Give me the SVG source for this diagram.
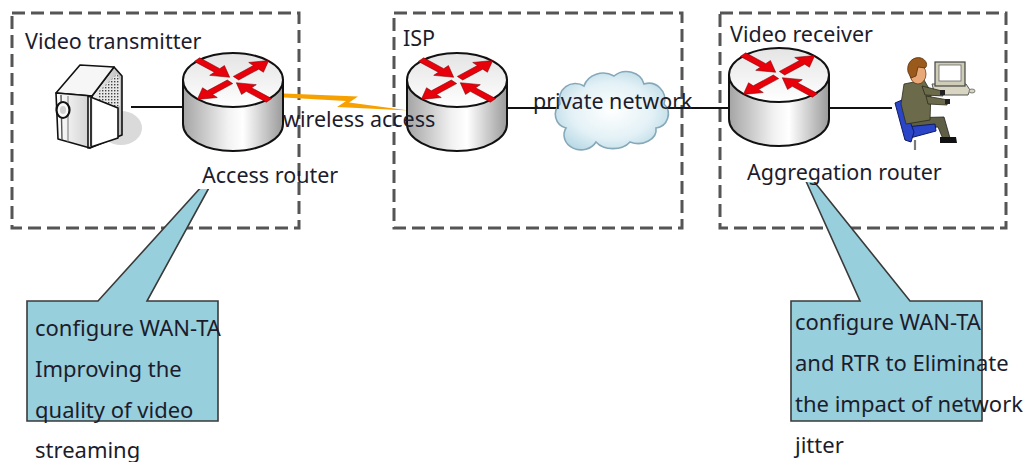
<svg xmlns="http://www.w3.org/2000/svg" xmlns:xlink="http://www.w3.org/1999/xlink" width="1024" height="462" viewBox="0 0 1024 462">
  <style>
    .zone { fill: none; stroke: #555; stroke-width: 3; stroke-dasharray: 13 6; }
    .lbl { font-family: "Noto Sans", "Open Sans", sans-serif; font-size: 21.5px; fill: #1c1c2c; }
    .note { font-size: 22px; }
    .wire { stroke: #111; stroke-width: 2.2; fill: none; }
    .callout { fill: #97cfdc; stroke: #3a3a3a; stroke-width: 1.6; stroke-linejoin: miter; }
    .knock { fill: #fff; }
    .outline { stroke: #111; stroke-width: 1.6; stroke-linejoin: round; }
  </style>
  <defs>
    <linearGradient id="rBody" x1="0" y1="0" x2="1" y2="0">
      <stop offset="0" stop-color="#a4a4a4"/>
      <stop offset="0.45" stop-color="#f2f2f2"/>
      <stop offset="0.6" stop-color="#ffffff"/>
      <stop offset="1" stop-color="#9a9a9a"/>
    </linearGradient>
    <linearGradient id="rTop" x1="0" y1="0" x2="0" y2="1">
      <stop offset="0" stop-color="#e4e4e4"/>
      <stop offset="1" stop-color="#ffffff"/>
    </linearGradient>
    <radialGradient id="cloudFill" cx="0.5" cy="0.5" r="0.6">
      <stop offset="0" stop-color="#ffffff"/>
      <stop offset="0.6" stop-color="#e3f1f6"/>
      <stop offset="1" stop-color="#b5d7e4"/>
    </radialGradient>
    <linearGradient id="camFace" x1="0" y1="0" x2="1" y2="0">
      <stop offset="0" stop-color="#ffffff"/>
      <stop offset="1" stop-color="#cfcfcf"/>
    </linearGradient>
    <linearGradient id="camSide" x1="0" y1="0" x2="1" y2="0">
      <stop offset="0" stop-color="#f4f4f4"/>
      <stop offset="1" stop-color="#bdbdbd"/>
    </linearGradient>
    <pattern id="grille" width="3" height="3" patternUnits="userSpaceOnUse">
      <rect width="3" height="3" fill="#e8e8e8"/>
      <rect width="1.4" height="1.4" fill="#444"/>
    </pattern>
    <!-- red arrow on the router top, pointing along +x -->
    <path id="rArrow" d="M0,-4 L27,-4 L27,-11 L44,0 L27,11 L27,4 L0,4 Z" fill="#e8000b" stroke="#7a0000" stroke-width="0.6"/>
    <g id="routerIcon">
      <path d="M-50,0 L-50,44 A50,27 0 0 0 50,44 L50,0 Z" fill="url(#rBody)" stroke="#111" stroke-width="2"/>
      <ellipse cx="0" cy="0" rx="50" ry="27" fill="url(#rTop)" stroke="#111" stroke-width="2"/>
      <g transform="scale(1,0.6)">
        <use xlink:href="#rArrow" transform="translate(-36,-34) rotate(42)"/>
        <use xlink:href="#rArrow" transform="translate(3,-3) rotate(-42)"/>
        <use xlink:href="#rArrow" transform="translate(36,34) rotate(-138)"/>
        <use xlink:href="#rArrow" transform="translate(-3,3) rotate(138)"/>
      </g>
    </g>
  </defs>

  <rect width="1024" height="462" fill="#ffffff"/>

  <!-- site zones -->
  <g id="zone-transmitter">
    <rect class="zone" x="12" y="13" width="287" height="215"/>
    <text class="lbl" x="25" y="49">Video transmitter</text>
  </g>
  <g id="zone-isp">
    <rect class="zone" x="394" y="13" width="288" height="215"/>
    <text class="lbl" x="403" y="46">ISP</text>
  </g>
  <g id="zone-receiver">
    <rect class="zone" x="720" y="13" width="286" height="215"/>
    <text class="lbl" x="730" y="42">Video receiver</text>
  </g>

  <!-- links -->
  <g id="connectors">
    <line class="wire" x1="131" y1="107" x2="184" y2="107"/>
    <line class="wire" x1="506" y1="108" x2="731" y2="108"/>
    <line class="wire" x1="828" y1="108" x2="892" y2="108"/>
    <polygon points="284,93.5 358,96.5 349,102.5 409,110.5 337,107 346,101 284,97.5" fill="#f7a100"/>
  </g>

  <!-- camcorder -->
  <g id="node-camera">
    <ellipse cx="121" cy="128" rx="21" ry="17" fill="#dadada"/>
    <!-- right side with speaker grille -->
    <polygon class="outline" points="92,96 114,67 122,76 122,135 90,148" fill="url(#camSide)"/>
    <polygon points="98,92 117,74 120,80 120,106 98,110" fill="url(#grille)"/>
    <!-- top face -->
    <polygon class="outline" points="56,93 80,65 114,67 92,96" fill="#f6f6f6"/>
    <!-- front face -->
    <polygon class="outline" points="56,93 92,96 90,148 58,139" fill="url(#camFace)"/>
    <line x1="61" y1="95" x2="62" y2="140" stroke="#555" stroke-width="1.4"/>
    <line x1="68" y1="96" x2="68" y2="142" stroke="#777" stroke-width="1"/>
    <ellipse cx="63" cy="110" rx="6.5" ry="8" fill="#f8f8f8" stroke="#111" stroke-width="2.2"/>
    <ellipse cx="63" cy="110" rx="3" ry="4" fill="#cfcfcf"/>
    <!-- flip-out screen -->
    <polygon class="outline" points="88,96 118,108 118,138 88,148" fill="#ffffff"/>
    <line x1="91" y1="98" x2="91" y2="146" stroke="#333" stroke-width="2.2"/>
  </g>

  <!-- routers -->
  <g id="node-access-router">
    <use xlink:href="#routerIcon" transform="translate(233,80)"/>
  </g>
  <g id="node-isp-router">
    <use xlink:href="#routerIcon" transform="translate(457,80)"/>
  </g>
  <g id="node-agg-router">
    <use xlink:href="#routerIcon" transform="translate(779,75)"/>
  </g>

  <!-- private network cloud -->
  <g id="node-cloud">
    <path d="M566,128 A14,14 0 0 1 560,104 A16,16 0 0 1 584,86 A20,18 0 0 1 614,76 A18,16 0 0 1 644,84 A16,16 0 0 1 664,104 A14,14 0 0 1 656,128 A18,14 0 0 1 630,142 A20,14 0 0 1 596,142 A16,14 0 0 1 566,128 Z" fill="url(#cloudFill)" stroke="#86a9b9" stroke-width="1.6"/>
  </g>

  <!-- operator at workstation -->
  <g id="node-user">
    <!-- chair base -->
    <g stroke="#7a7a7a" stroke-width="2.2" fill="none">
      <line x1="915" y1="140" x2="915" y2="153"/>
      <line x1="915" y1="153" x2="901" y2="160"/>
      <line x1="915" y1="153" x2="930" y2="160"/>
      <line x1="915" y1="153" x2="913" y2="163"/>
      <line x1="915" y1="153" x2="938" y2="155"/>
    </g>
    <g fill="#333">
      <circle cx="901" cy="161" r="1.8"/>
      <circle cx="930" cy="161" r="1.8"/>
      <circle cx="913" cy="164" r="1.8"/>
      <circle cx="938" cy="156" r="1.8"/>
    </g>
    <!-- desk set -->
    <polygon points="932,84 966,84 970,90 968,95 935,95" fill="#d8d6c2" stroke="#555" stroke-width="1"/>
    <rect x="935" y="62" width="30" height="24" fill="#cfcdb6" stroke="#444" stroke-width="1.2"/>
    <rect x="939" y="65" width="22" height="16" fill="#ffffff" stroke="#666" stroke-width="0.8"/>
    <ellipse cx="972" cy="91" rx="3" ry="2" fill="#d8d6c2" stroke="#666" stroke-width="0.8"/>
    <!-- legs -->
    <path d="M905,118 L944,117 L950,138 L943,139 L938,127 L906,130 Z" fill="#5f5f45" stroke="#222" stroke-width="0.8"/>
    <path d="M940,137 L956,137 L957,143 L940,143 Z" fill="#111"/>
    <!-- seat and backrest -->
    <path d="M906,127 L935,124 L936,131 L910,138 Z" fill="#2a45c8" stroke="#101a60" stroke-width="1"/>
    <path d="M895,103 L902,100 L914,132 L911,142 L905,140 Z" fill="#2a45c8" stroke="#101a60" stroke-width="1"/>
    <!-- torso and arms -->
    <path d="M904,84 L924,80 L931,92 L930,120 L906,124 L901,104 Z" fill="#6b6b4b" stroke="#2b2b1b" stroke-width="0.8"/>
    <path d="M922,86 L942,91 L943,96 L925,95 Z" fill="#6b6b4b" stroke="#2b2b1b" stroke-width="0.8"/>
    <path d="M926,96 L948,100 L947,105 L928,104 Z" fill="#6b6b4b" stroke="#2b2b1b" stroke-width="0.8"/>
    <rect x="940" y="90" width="5" height="5" fill="#222"/>
    <rect x="945" y="99" width="5" height="5" fill="#222"/>
    <!-- head -->
    <ellipse cx="918" cy="74" rx="8" ry="10" fill="#e9a877" stroke="#6a3a1a" stroke-width="0.8"/>
    <path d="M908,72 C906,62 914,56 921,58 C927,60 928,66 925,68 L918,67 L916,76 L911,78 Z" fill="#9a5a1c" stroke="#5a3008" stroke-width="0.8"/>
  </g>

  <!-- callouts -->
  <g id="callout-left">
    <path class="callout" d="M27,301 L98,301 L222,164 L147,301 L218,301 L218,421 L27,421 Z"/>
  </g>
  <g id="callout-right">
    <path class="callout" d="M791,301 L860,301 L796,159 L910,301 L982,301 L982,421 L791,421 Z"/>
  </g>

  <!-- labels -->
  <g id="labels">
    <rect class="knock" x="196" y="158" width="100" height="31"/>
    <text class="lbl" x="202" y="183">Access router</text>
    <rect class="knock" x="730" y="150" width="210" height="32"/>
    <text class="lbl" x="747" y="180">Aggregation router</text>
    <text class="lbl" x="283" y="127">wireless access</text>
    <text class="lbl" x="533" y="109">private network</text>
    <text class="lbl note" x="35" y="336">configure WAN-TA</text>
    <text class="lbl note" x="35" y="377">Improving the</text>
    <text class="lbl note" x="35" y="418">quality of video</text>
    <text class="lbl note" x="35" y="458">streaming</text>
    <text class="lbl note" x="795" y="330">configure WAN-TA</text>
    <text class="lbl note" x="795" y="371">and RTR to Eliminate</text>
    <text class="lbl note" x="795" y="412">the impact of network</text>
    <text class="lbl note" x="795" y="453">jitter</text>
  </g>
</svg>
